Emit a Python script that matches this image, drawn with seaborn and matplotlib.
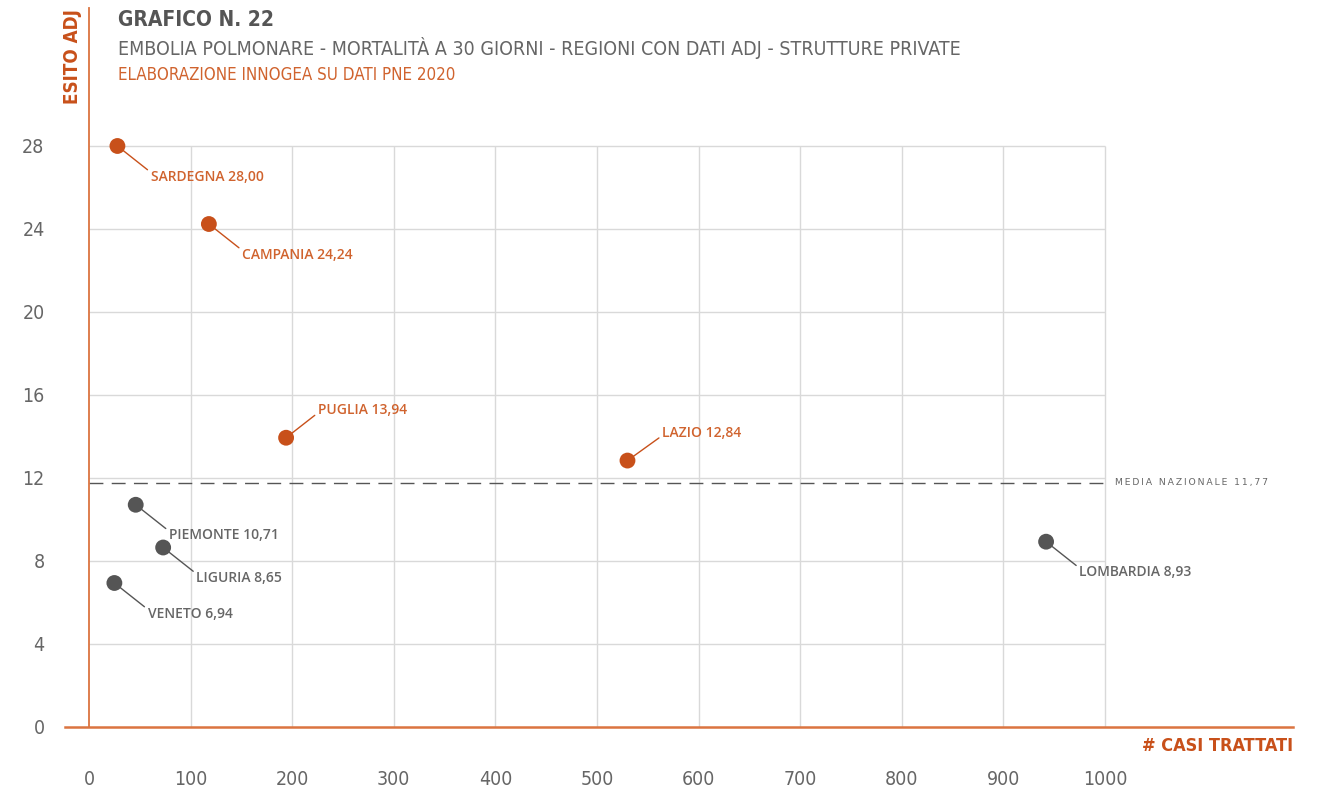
import pandas as pd
import seaborn as sns
import matplotlib.pyplot as plt

# dati
regioni = ['SARDEGNA', 'CAMPANIA', 'PUGLIA', 'LAZIO', 'PIEMONTE', 'LIGURIA', 'VENETO', 'LOMBARDIA']
casi = [28, 118, 194, 530, 46, 73, 25, 942]
esito = [28.00, 24.24, 13.94, 12.84, 10.71, 8.65, 6.94, 8.93]
media_nazionale = 11.77
x_ticks = [0, 100, 200, 300, 400, 500, 600, 700, 800, 900, 1000]
y_ticks = [0, 4, 8, 12, 16, 20, 24, 28]

df = pd.DataFrame({'regione': regioni, 'casi': casi, 'esito': esito})
df['gruppo'] = ['sopra' if v > media_nazionale else 'sotto' for v in df['esito']]

ARANCIO = '#C8501A'
ARANCIO_TXT = '#D0632E'
ARANCIO_ASSE = '#DB7440'
GRIGIO = '#555555'
GRIGIO_TXT = '#666666'

sns.set_style('white')
plt.rcParams['font.family'] = ['DejaVu Sans']
plt.rcParams['font.stretch'] = 'condensed'

fig = plt.figure(figsize=(13.25, 7.93), dpi=100)
ax = fig.add_axes([65 / 1325, 66 / 793, (1293 - 65) / 1325, (727 - 8) / 793])
ax.set_xlim(-23.6, 1185)
ax.set_ylim(0, 34.65)

# griglia solo nell'area dati
ax.vlines(x_ticks[1:], 0, 28, color='#d9d9d9', lw=1, zorder=0)
ax.hlines(y_ticks[1:], 0, 1000, color='#d9d9d9', lw=1, zorder=0)

# linea media
ax.plot([0, 1000], [media_nazionale, media_nazionale], color=GRIGIO, lw=1,
        dashes=(10, 6), zorder=1)
ax.text(1010, media_nazionale, '\u2009'.join('MEDIA NAZIONALE 11,77'),
        fontsize=6.7, color=GRIGIO_TXT, va='center', ha='left', family='DejaVu Sans',
        fontstretch='normal')

sns.scatterplot(data=df, x='casi', y='esito', hue='gruppo',
                palette={'sopra': ARANCIO, 'sotto': GRIGIO}, s=130,
                linewidth=0, legend=False, ax=ax, zorder=3)

# etichette
offset = {'PUGLIA': (23, 20), 'LAZIO': (25, 20)}
for _, r in df.iterrows():
    dx, dy = offset.get(r['regione'], (24, -22))
    col = ARANCIO_TXT if r['gruppo'] == 'sopra' else GRIGIO_TXT
    lcol = ARANCIO if r['gruppo'] == 'sopra' else GRIGIO
    rp = (0, 0.3) if dy > 0 else (0, 0.8)
    etichetta = f"{r['regione']} {r['esito']:.2f}".replace('.', ',')
    ax.annotate(etichetta, xy=(r['casi'], r['esito']), xytext=(dx, dy),
                textcoords='offset points', fontsize=10, fontweight='semibold',
                color=col, va='center', ha='left', family='Open Sans',
                fontstretch='normal',
                arrowprops=dict(arrowstyle='-', color=lcol, lw=1,
                                shrinkA=0, shrinkB=3, relpos=rp))

# assi
for s in ['top', 'right']:
    ax.spines[s].set_visible(False)
ax.spines['left'].set_position(('data', 0))
ax.spines['left'].set_color(ARANCIO_ASSE)
ax.spines['bottom'].set_color(ARANCIO_ASSE)
ax.spines['left'].set_linewidth(1.3)
ax.spines['bottom'].set_linewidth(1.8)

ax.set_xticks(x_ticks)
ax.set_yticks(y_ticks)
ax.tick_params(axis='x', direction='out', length=18, width=1, color=ARANCIO_ASSE,
               pad=13, labelsize=14, labelcolor=GRIGIO_TXT)
ax.tick_params(axis='y', direction='out', length=18, width=1.3, color=ARANCIO_ASSE,
               pad=14, labelsize=14, labelcolor=GRIGIO_TXT)
ax.set_xlabel('')
ax.set_ylabel('')

fig.text(72 / 1325, 1 - 57 / 793, 'ESITO ADJ', rotation=90, ha='center', va='center',
         fontsize=13.5, fontweight='bold', color=ARANCIO)
fig.text(1293 / 1325, 1 - 746 / 793, '# CASI TRATTATI', ha='right', va='center',
         fontsize=13, fontweight='bold', color=ARANCIO)

fig.text(118 / 1325, 1 - 20 / 793, 'GRAFICO N. 22', ha='left', va='center',
         fontsize=15, fontweight='bold', color=GRIGIO)
fig.text(118 / 1325, 1 - 48 / 793,
         'EMBOLIA POLMONARE - MORTALITÀ A 30 GIORNI - REGIONI CON DATI ADJ - STRUTTURE PRIVATE',
         ha='left', va='center', fontsize=14, color=GRIGIO_TXT)
fig.text(118 / 1325, 1 - 75 / 793, 'ELABORAZIONE INNOGEA SU DATI PNE 2020',
         ha='left', va='center', fontsize=12.2, color=ARANCIO_TXT)

plt.savefig('out.png', dpi=100)
